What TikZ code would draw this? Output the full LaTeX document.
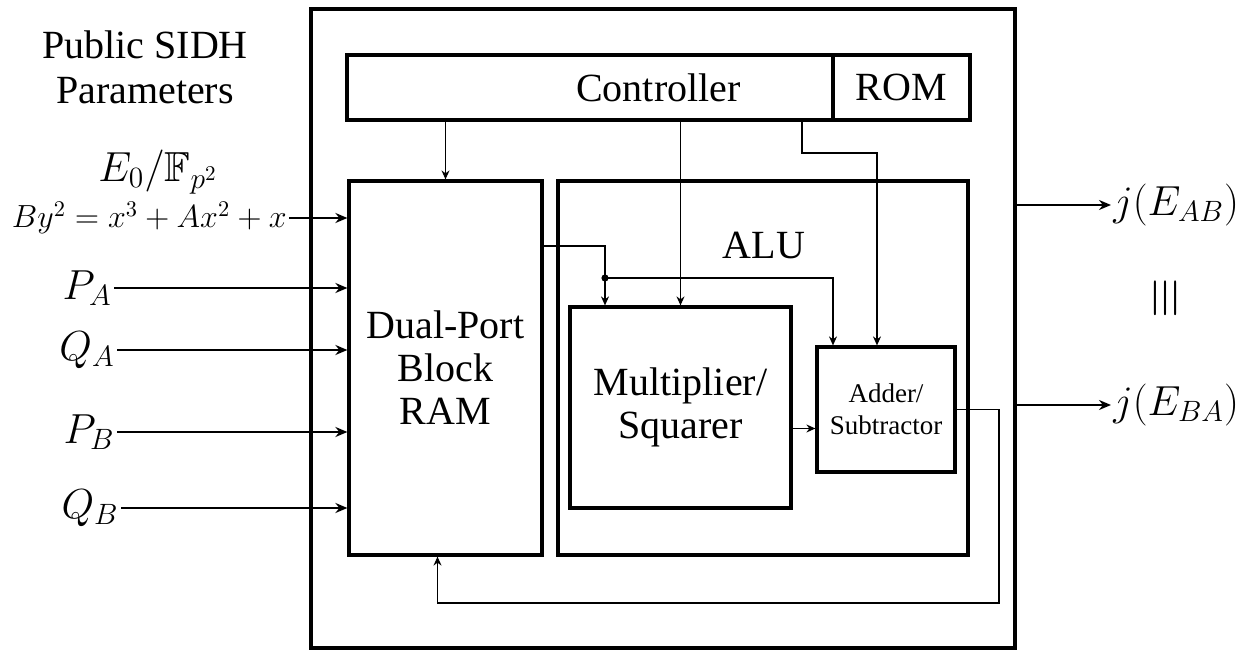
\documentclass[tikz,border=0pt]{standalone}
\usepackage{fix-cm}
\usepackage{amsmath,amssymb}
\usepackage[no-math]{fontspec}
\setmainfont{Liberation Serif}
\usetikzlibrary{
	arrows.meta,
	positioning,
	calc
}

\begin{document}
\begin{tikzpicture}[
				x=0.5pt, y=-0.5pt,
				block/.style={
					rectangle, draw, line width=1.6pt,
					inner sep=0pt, align=center,
					font=\fontsize{20}{21.5}\selectfont
				},
				smallblock/.style={
					block, font=\fontsize{13.5}{16}\selectfont
				},
				plain/.style={
					align=center, font=\fontsize{20}{22.5}\selectfont
				},
				mathlabel/.style={
					inner sep=1pt, font=\fontsize{21}{24}\selectfont
				},
				inarrow/.style={-{Stealth[length=6pt,width=5pt]}, line width=1.2pt},
				link/.style={-{Stealth[length=4.5pt,width=4pt]}, line width=0.6pt}
				]
				\useasboundingbox (0,0) rectangle (1243,651);
				
				% outer frame
				\node[block, minimum width=352pt, minimum height=319.5pt] (outer) at (663,328.5) {};
				
				% controller and ROM
				\node[block, minimum width=311.5pt, minimum height=32.5pt] (ctrl) at (658.5,87.5) {Controller};
				\node[block, fill=white, minimum width=68.5pt, minimum height=32.5pt] (rom) at (901.5,87.5) {ROM};
				
				% memory
				\node[block, minimum width=96.5pt, minimum height=187pt] (ram) at (445.5,368) {Dual-Port\\Block\\RAM};
				
				% ALU and its units
				\node[block, minimum width=205pt, minimum height=187pt] (alu) at (763,368) {};
				\node[plain] (alulabel) at (764,245) {ALU};
				\node[block, minimum width=110.5pt, minimum height=100.5pt] (mult) at (680.5,407.5) {Multiplier/\\Squarer};
				\node[smallblock, minimum width=69pt, minimum height=62.5pt] (adder) at (886,409.5) {Adder/\\Subtractor};
				
				% inputs
				\node[plain] (params) at (145,67) {Public SIDH\\Parameters};
				\node[mathlabel] (curve) at (158,172) {$E_0/\mathbb{F}_{p^2}$};
				\node[mathlabel, font=\fontsize{16}{18}\selectfont, anchor=east] (eqn) at (289,218) {$By^2=x^3+Ax^2+x$};
				\node[mathlabel, anchor=east] (pa) at (114,288) {$P_A$};
				\node[mathlabel, anchor=east] (qa) at (117,350) {$Q_A$};
				\node[mathlabel, anchor=east] (pb) at (117,432) {$P_B$};
				\node[mathlabel, anchor=east] (qb) at (121,508) {$Q_B$};
				
				% outputs
				\node[mathlabel, anchor=west] (jab) at (1111,205) {$j(E_{AB})$};
				\node[mathlabel, anchor=west] (jba) at (1111,405) {$j(E_{BA})$};
				\node[rotate=90, font=\fontsize{26}{28}\selectfont] (same) at (1166,298) {$\equiv$};
				
				% input arrows
				\draw[inarrow] (eqn.east) -- (eqn.east -| ram.west);
				\draw[inarrow] (pa.east) -- (pa.east -| ram.west);
				\draw[inarrow] (qa.east) -- (qa.east -| ram.west);
				\draw[inarrow] (pb.east) -- (pb.east -| ram.west);
				\draw[inarrow] (qb.east) -- (qb.east -| ram.west);
				
				% output arrows
				\draw[inarrow] (outer.east |- jab.west) -- (jab.west);
				\draw[inarrow] (outer.east |- jba.west) -- (jba.west);
				
				% control lines
				\coordinate (bend) at (802,153);
				\draw[link] (ctrl.south -| ram.north) -- (ram.north);
				\draw[link] (ctrl.south -| mult.north) -- (mult.north);
				\draw[link] (ctrl.south -| bend) -- (bend) -| ($(adder.north)+(-9,0)$);
				
				% data paths
				\coordinate (split) at (605,246);
				\coordinate (tap) at (605,278);
				\draw[link] (ram.east |- split) -- (split) -- (tap |- mult.north);
				\fill (tap) circle (1.8pt);
				\draw[link] (tap) -| ($(adder.north)+(-53,0)$);
				\coordinate (mout) at ($(mult.east)+(0,21)$);
				\draw[link] (mout) -- (mout -| adder.west);
				\coordinate (back) at (999,603);
				\draw[link] (adder.east) -| (back) -| ($(ram.south)+(-8,0)$);
			\end{tikzpicture}
\end{document}
